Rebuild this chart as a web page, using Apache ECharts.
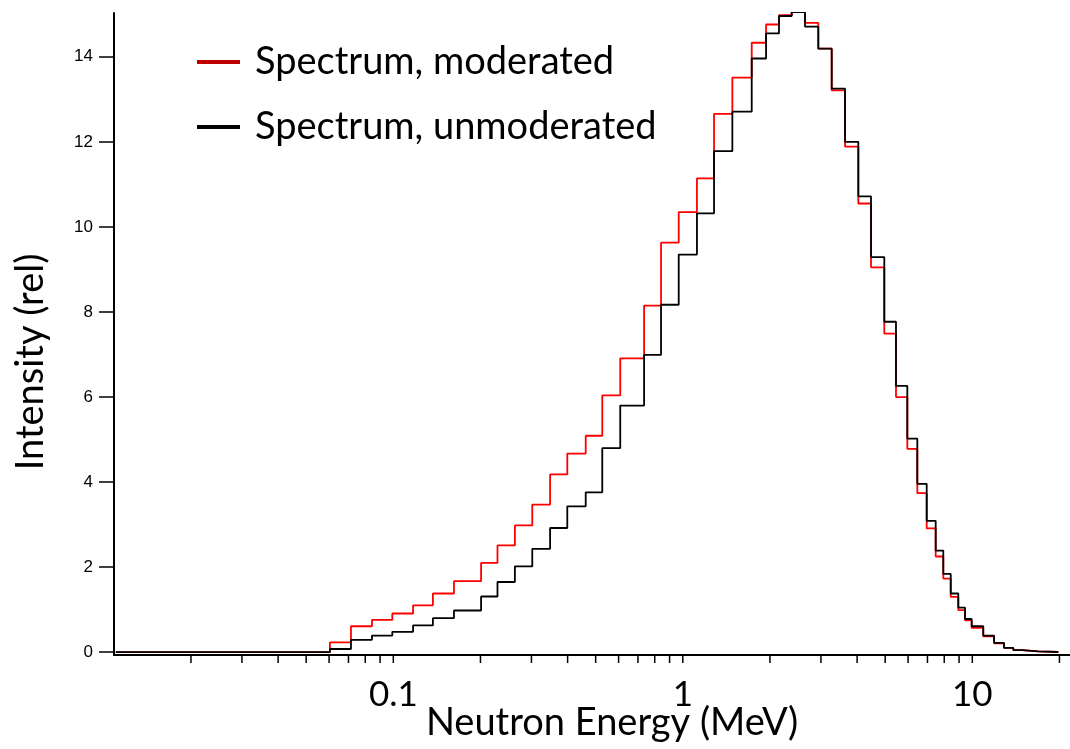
<!DOCTYPE html>
<html>
<head>
<meta charset="utf-8">
<script src="https://cdn.jsdelivr.net/npm/echarts@6/dist/echarts.min.js"></script>
<style>
  html, body { margin: 0; padding: 0; background: #fff; }
  #chart { width: 1070px; height: 749px; }
</style>
</head>
<body>
<div id="chart"></div>
<script>
// Energy group boundaries (MeV), shared by both spectra
const binEdges = [0.011, 0.0604, 0.0714, 0.0844, 0.0992, 0.117, 0.137, 0.162, 0.201, 0.229,
  0.263, 0.302, 0.348, 0.399, 0.462, 0.527, 0.608, 0.735, 0.841, 0.968,
  1.119, 1.282, 1.483, 1.730, 1.939, 2.149, 2.378, 2.643, 2.938, 3.268,
  3.634, 4.039, 4.468, 4.966, 5.450, 5.964, 6.457, 6.958, 7.473, 7.939,
  8.423, 8.945, 9.437, 9.95, 10.91, 11.89, 12.87, 13.86, 14.88, 16.90, 19.82];

// Relative intensity per energy group
const moderated = [0, 0.23, 0.61, 0.76, 0.91, 1.10, 1.38, 1.67, 2.10, 2.51,
  2.98, 3.47, 4.18, 4.67, 5.09, 6.04, 6.91, 8.15, 9.63, 10.35,
  11.14, 12.66, 13.51, 14.33, 14.76, 14.98, 15.05, 14.80, 14.19, 13.21,
  11.89, 10.55, 9.05, 7.49, 6.00, 4.78, 3.74, 2.91, 2.25, 1.73,
  1.30, 0.99, 0.75, 0.57, 0.37, 0.21, 0.10, 0.05, 0.02, 0.005];

const unmoderated = [0, 0.075, 0.29, 0.39, 0.48, 0.63, 0.80, 0.98, 1.31, 1.65,
  2.02, 2.43, 2.92, 3.43, 3.76, 4.80, 5.80, 6.99, 8.17, 9.35,
  10.32, 11.78, 12.71, 13.96, 14.55, 14.96, 15.05, 14.71, 14.19, 13.25,
  12.00, 10.72, 9.29, 7.77, 6.26, 5.02, 3.96, 3.09, 2.39, 1.84,
  1.38, 1.05, 0.78, 0.61, 0.39, 0.22, 0.10, 0.05, 0.02, 0.005];

const seriesNames = ['Spectrum, moderated', 'Spectrum, unmoderated'];

// Log-axis tick positions (MeV) and the decade labels
const xTickValues = [0.02, 0.03, 0.04, 0.05, 0.06, 0.07, 0.08, 0.09, 0.1,
  0.2, 0.3, 0.4, 0.5, 0.6, 0.7, 0.8, 0.9, 1,
  2, 3, 4, 5, 6, 7, 8, 9, 10, 20];
const xTickLabels = ['0.1', '1', '10'];
const yTickValues = [0, 2, 4, 6, 8, 10, 12, 14];

const X_MIN = 0.010844, X_MAX = 21.75;
const Y_MIN = -0.066, Y_MAX = 15.03;

// Histogram -> step polyline: one point per lower edge, plus the final upper edge
function stepPoints(edges, values) {
  const pts = values.map((v, i) => [edges[i], v]);
  pts.push([edges[edges.length - 1], values[values.length - 1]]);
  return pts;
}

const chart = echarts.init(document.getElementById('chart'), null, { renderer: 'canvas' });

const option = {
  animation: false,
  backgroundColor: '#fff',
  grid: { left: 114, right: 0, top: 13, bottom: 94, containLabel: false },
  legend: {
    orient: 'vertical',
    left: 197,
    top: 37,
    padding: 0,
    itemGap: 15,
    icon: 'rect',
    itemWidth: 43,
    itemHeight: 4,
    selectedMode: false,
    itemStyle: { borderWidth: 0 },
    textStyle: { fontFamily: 'Lato', fontSize: 38, color: '#000', lineHeight: 50, padding: [0, 0, 0, 10] },
    data: [
      { name: seriesNames[0], itemStyle: { color: '#c00000', borderWidth: 0 } },
      { name: seriesNames[1], itemStyle: { color: '#000000', borderWidth: 0 } }
    ]
  },
  xAxis: {
    type: 'log',
    logBase: 10,
    min: X_MIN,
    max: X_MAX,
    axisLine: { show: true, onZero: false, lineStyle: { color: '#000', width: 2 } },
    axisTick: { show: false },
    splitLine: { show: false },
    minorSplitLine: { show: false },
    axisLabel: {
      margin: 22,
      fontFamily: 'Lato',
      fontSize: 35,
      color: '#000',
      showMinLabel: false,
      showMaxLabel: false,
      formatter: function (v) {
        for (const s of xTickLabels) {
          if (Math.abs(Number(s) - v) / v < 1e-6) return s;
        }
        return '';
      }
    }
  },
  yAxis: {
    type: 'value',
    min: Y_MIN,
    max: Y_MAX,
    axisLine: { show: true, onZero: false, lineStyle: { color: '#000', width: 2 } },
    axisTick: { show: true, length: 15, customValues: yTickValues, lineStyle: { color: '#000', width: 1.5 } },
    axisLabel: {
      customValues: yTickValues,
      margin: 21,
      fontFamily: 'Liberation Sans',
      fontSize: 17,
      color: '#000'
    },
    splitLine: { show: false }
  },
  graphic: [
    {
      type: 'text',
      x: 612,
      y: 723,
      style: { text: 'Neutron Energy (MeV)', font: '38px Lato', fill: '#000', align: 'center', verticalAlign: 'middle' }
    },
    {
      type: 'text',
      x: 31,
      y: 362,
      rotation: Math.PI / 2,
      style: { text: 'Intensity (rel)', font: '38px Lato', fill: '#000', align: 'center', verticalAlign: 'middle' }
    }
  ],
  series: [
    {
      name: seriesNames[0],
      type: 'line',
      step: 'end',
      symbol: 'none',
      showSymbol: false,
      color: '#ff0000',
      lineStyle: { color: '#ff0000', width: 1.8 },
      data: stepPoints(binEdges, moderated),
      z: 2
    },
    {
      name: seriesNames[1],
      type: 'line',
      step: 'end',
      symbol: 'none',
      showSymbol: false,
      color: '#000000',
      lineStyle: { color: '#000000', width: 1.8 },
      data: stepPoints(binEdges, unmoderated),
      z: 3
    },
    {
      // log-axis major and minor ticks, drawn below the x axis line
      name: 'xTicks',
      type: 'custom',
      clip: false,
      silent: true,
      z: 4,
      data: xTickValues.map(v => [v, Y_MIN]),
      encode: { x: 0, y: 1 },
      renderItem: function (params, api) {
        const p = api.coord([api.value(0), Y_MIN]);
        return {
          type: 'line',
          shape: { x1: p[0], y1: p[1], x2: p[0], y2: p[1] + 8 },
          style: { stroke: '#000', lineWidth: 1.5 }
        };
      }
    }
  ]
};

chart.setOption(option);
</script>
</body>
</html>
